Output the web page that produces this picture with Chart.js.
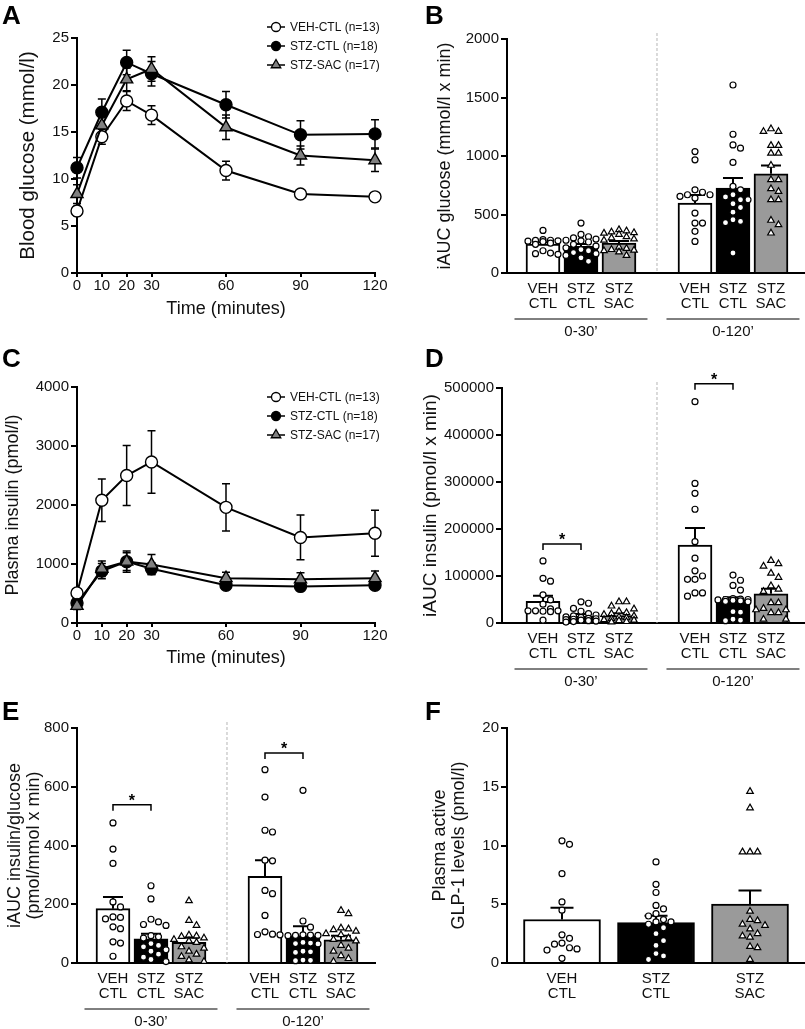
<!DOCTYPE html>
<html>
<head>
<meta charset="utf-8">
<script src="https://cdn.jsdelivr.net/npm/chart.js@4.4.1/dist/chart.umd.min.js"></script>
<style>
  body { margin: 0; background: #fff; }
  #wrap { position: relative; width: 805px; height: 1029px; overflow: hidden; background: #fff; }
  canvas { position: absolute; }
</style>
</head>
<body>
<div id="wrap">
  <canvas id="chartA" width="400" height="320" style="left:0;top:0"></canvas>
  <canvas id="chartB" width="405" height="345" style="left:400px;top:0"></canvas>
  <canvas id="chartC" width="400" height="330" style="left:0;top:340px"></canvas>
  <canvas id="chartD" width="405" height="350" style="left:400px;top:345px"></canvas>
  <canvas id="chartE" width="400" height="334" style="left:0;top:695px"></canvas>
  <canvas id="chartF" width="405" height="334" style="left:400px;top:695px"></canvas>
</div>
<script>
// ---- data ----
const times = [0, 10, 20, 30, 60, 90, 120];
const seriesNames = ["VEH-CTL (n=13)", "STZ-CTL (n=18)", "STZ-SAC (n=17)"];

const glucoseVeh = [6.6, 14.5, 18.3, 16.8, 10.9, 8.4, 8.1];
const glucoseVehSem = [0.5, 0.8, 1.0, 1.0, 1.0, 0.4, 0.3];
const glucoseStz = [11.2, 17.1, 22.4, 21.2, 17.9, 14.7, 14.8];
const glucoseStzSem = [1.1, 1.4, 1.3, 1.3, 1.4, 1.5, 1.5];
const glucoseSac = [8.4, 15.7, 20.6, 21.7, 15.5, 12.5, 12.0];
const glucoseSacSem = [1.0, 1.0, 1.2, 1.3, 1.3, 1.0, 1.2];

const insulinVeh = [510, 2080, 2500, 2730, 1960, 1450, 1520];
const insulinVehSem = [60, 360, 510, 530, 400, 380, 390];
const insulinStz = [340, 880, 1040, 920, 640, 620, 640];
const insulinStzSem = [60, 130, 150, 100, 70, 70, 70];
const insulinSac = [290, 920, 1040, 990, 760, 740, 760];
const insulinSacSem = [60, 130, 180, 170, 100, 110, 120];

const groupTop = ["VEH", "STZ", "STZ"];
const groupBottom = ["CTL", "CTL", "SAC"];
const periods = ["0-30\u2019", "0-120\u2019"];

// iAUC glucose
const gluAucMean = [247, 228, 256, 597, 725, 848];
const gluAucSem = [16, 20, 18, 70, 86, 71];
const gluVeh30 = [364, 285, 280, 278, 275, 272, 268, 255, 245, 190, 170, 165, 160];
const gluStz30 = [427, 330, 310, 300, 290, 280, 275, 265, 245, 230, 215, 200, 190, 175, 165, 150, 130, 100];
const gluSac30 = [370, 360, 350, 345, 340, 330, 310, 300, 290, 280, 220, 210, 200, 195, 190, 180, 150];
const gluVeh120 = [1038, 967, 711, 690, 669, 669, 655, 640, 512, 427, 427, 356, 270];
const gluStz120 = [1607, 1186, 1095, 1067, 945, 740, 711, 669, 650, 626, 626, 592, 560, 520, 455, 441, 430, 171];
const gluSac120 = [1232, 1209, 1209, 1090, 1090, 1024, 1024, 920, 797, 797, 720, 697, 626, 626, 450, 412, 341];

// iAUC insulin
const insAucMean = [46000, 14000, 16000, 166000, 50000, 62000];
const insAucSem = [12000, 5000, 5000, 36000, 5000, 11000];
const insVeh30 = [132000, 95000, 89000, 60000, 49000, 40000, 30000, 26000, 26000, 26000, 25000, 24000, 6000];
const insStz30 = [45000, 42000, 31000, 25000, 20000, 17000, 15000, 13000, 12000, 10000, 9000, 8000, 7000, 6000, 5000, 4000, 3000, 2000];
const insSac30 = [45000, 45000, 36000, 30000, 25000, 22000, 20000, 18000, 15000, 13000, 11000, 9000, 7000, 6000, 5000, 3000, 2000];
const insVeh120 = [471000, 297000, 276000, 242000, 173000, 138000, 111000, 100000, 93000, 93000, 64000, 64000, 57000];
const insStz120 = [102000, 91000, 80000, 70000, 52000, 51000, 50000, 50000, 49000, 48000, 47000, 46000, 45000, 24000, 23000, 8000, 6000, 5000];
const insSac120 = [133000, 126000, 121000, 106000, 97000, 79000, 72000, 67000, 43000, 43000, 31000, 28000, 28000, 22000, 22000, 8000, 8000];
const insSig = [168000, 509000];

// iAUC insulin / glucose
const ratioMean = [185, 82, 70, 295, 93, 79];
const ratioSem = [40, 18, 16, 55, 32, 14];
const ratioVeh30 = [477, 388, 339, 208, 191, 157, 155, 150, 123, 117, 72, 68, 23];
const ratioStz30 = [263, 218, 149, 140, 131, 128, 93, 89, 85, 66, 60, 55, 45, 40, 30, 20, 12, 5];
const ratioSac30 = [212, 145, 128, 95, 92, 90, 85, 80, 75, 70, 55, 50, 40, 30, 22, 10, 5];
const ratioVeh120 = [658, 565, 452, 446, 350, 348, 247, 236, 162, 106, 98, 97, 96];
const ratioStz120 = [588, 143, 122, 96, 95, 94, 94, 93, 70, 68, 66, 65, 40, 38, 36, 10, 9, 8];
const ratioSac120 = [179, 168, 119, 116, 113, 108, 100, 96, 85, 80, 75, 60, 50, 40, 25, 15, 5];
const ratioSig = [539, 715];

// GLP-1
const glpMean = [3.7, 3.43, 5.02];
const glpSem = [1.0, 0.6, 1.16];
const glpVeh = [10.4, 10.1, 7.6, 5.2, 4.5, 2.4, 2.1, 1.7, 1.6, 1.3, 1.2, 1.1, 0.4];
const glpStz = [8.6, 6.7, 6.0, 4.9, 4.6, 4.2, 4.0, 3.7, 3.5, 3.5, 3.3, 3.0, 2.5, 1.9, 1.5, 0.8, 0.6, 0.3];
const glpSac = [14.6, 13.2, 9.45, 9.45, 9.45, 4.4, 3.7, 3.6, 3.3, 3.2, 2.9, 2.5, 2.3, 2.2, 1.4, 1.3, 0.3];

// ---- shared look ----
const FONT = '"Liberation Sans", Arial, Helvetica, sans-serif';
const INK = "#111";
const barFill = ["#ffffff", "#000000", "#9a9a9a"];
Chart.defaults.font.family = FONT;
Chart.defaults.color = INK;
Chart.defaults.animation = false;
Chart.defaults.events = [];
Chart.defaults.plugins.legend.display = false;
Chart.defaults.plugins.tooltip.enabled = false;

function marker(ctx, style, x, y, r, fill) {
  ctx.beginPath();
  if (style === "triangle") {
    ctx.moveTo(x, y - r);
    ctx.lineTo(x + r * 0.866, y + r * 0.5);
    ctx.lineTo(x - r * 0.866, y + r * 0.5);
    ctx.closePath();
  } else {
    ctx.arc(x, y, r, 0, Math.PI * 2);
  }
  ctx.fillStyle = fill;
  ctx.fill();
  ctx.lineWidth = 1.3;
  ctx.strokeStyle = "#000";
  ctx.stroke();
}

// beeswarm: points at close values sit side by side, within a fixed spread
function swarm(values, slot, pxPerUnit, pxPerSlot, gap, spread) {
  const placed = [];
  const cands = [0];
  for (let k = 1; k * gap <= spread; k++) cands.push(k * gap, -k * gap);
  return values.map(v => {
    const py = v * pxPerUnit;
    let best = cands[0], bestD = -1;
    for (const off of cands) {
      const d = placed.reduce((m, p) => Math.min(m, Math.hypot(p.x - off, p.y - py)), Infinity);
      if (d >= gap) { best = off; bestD = d; break; }
      if (d > bestD) { best = off; bestD = d; }
    }
    placed.push({ x: best, y: py });
    return { x: slot + best / pxPerSlot, y: v };
  });
}

function yScale(o) {
  return {
    min: 0,
    max: o.yMax,
    afterFit: s => { s.width = o.area.l; },
    grid: { display: true, drawOnChartArea: false, drawTicks: true, tickLength: 6, color: "#000", lineWidth: 2 },
    border: { display: true, color: "#000", width: 2 },
    ticks: { stepSize: o.yStep, padding: 2, color: INK, font: { size: 15 }, callback: v => String(v) },
    title: {
      display: true, text: o.title, color: INK,
      font: { size: o.titleSize, lineHeight: 1.05 },
      padding: { top: o.titlePad, bottom: 0 }
    }
  };
}

function makeDecor(o) {
  return {
    id: "decor",
    beforeDatasetsDraw(chart) {
      if (!o.lineErrors) return;
      const ctx = chart.ctx, ys = chart.scales.y;
      ctx.save();
      ctx.strokeStyle = "#000";
      ctx.lineWidth = 1.5;
      chart.data.datasets.forEach((ds, i) => {
        chart.getDatasetMeta(i).data.forEach((pt, j) => {
          const v = ds.data[j].y, e = ds.sem[j];
          const y1 = ys.getPixelForValue(v + e), y2 = ys.getPixelForValue(v - e);
          ctx.beginPath();
          ctx.moveTo(pt.x, y1); ctx.lineTo(pt.x, y2);
          ctx.moveTo(pt.x - 4, y1); ctx.lineTo(pt.x + 4, y1);
          ctx.moveTo(pt.x - 4, y2); ctx.lineTo(pt.x + 4, y2);
          ctx.stroke();
        });
      });
      ctx.restore();
    },
    afterDatasetDraw(chart, args) {
      if (args.meta.type !== "bar") return;
      const ctx = chart.ctx, ys = chart.scales.y;
      const ds = chart.data.datasets[args.index];
      ctx.save();
      ctx.strokeStyle = "#000";
      ctx.lineWidth = 2;
      args.meta.data.forEach((bar, j) => {
        const top = ys.getPixelForValue(ds.data[j].y + ds.sem[j]);
        ctx.beginPath();
        ctx.moveTo(bar.x, bar.y); ctx.lineTo(bar.x, top);
        ctx.moveTo(bar.x - o.capW / 2, top); ctx.lineTo(bar.x + o.capW / 2, top);
        ctx.stroke();
      });
      ctx.restore();
    },
    afterDraw(chart) {
      const ctx = chart.ctx, xs = chart.scales.x, ys = chart.scales.y, area = chart.chartArea;
      ctx.save();
      // panel letter
      ctx.fillStyle = "#000";
      ctx.font = "bold 26px " + FONT;
      ctx.textAlign = "left";
      ctx.textBaseline = "alphabetic";
      ctx.fillText(o.letter, o.letterPos[0], o.letterPos[1]);

      // legend
      if (o.legend) {
        ctx.font = "12px " + FONT;
        ctx.textBaseline = "middle";
        o.legend.items.forEach((it, i) => {
          const y = o.legend.y + i * o.legend.dy, x = o.legend.x;
          ctx.beginPath();
          ctx.strokeStyle = "#000"; ctx.lineWidth = 1.5;
          ctx.moveTo(x - 9, y); ctx.lineTo(x + 9, y); ctx.stroke();
          marker(ctx, it.style, x, y, it.style === "triangle" ? 5.5 : 4.5, it.fill);
          ctx.fillStyle = INK;
          ctx.fillText(it.name, x + 14, y + 0.5);
        });
      }

      // dashed separator between the two periods
      if (o.periods) {
        const sx = xs.getPixelForValue(3);
        ctx.beginPath();
        ctx.setLineDash([3, 2]);
        ctx.strokeStyle = "#b5b5b5"; ctx.lineWidth = 1;
        ctx.moveTo(sx, area.top - 6); ctx.lineTo(sx, area.bottom);
        ctx.stroke();
        ctx.setLineDash([]);
        // group underlines and period labels
        ctx.strokeStyle = "#000"; ctx.lineWidth = 1;
        ctx.fillStyle = INK;
        ctx.font = "15px " + FONT;
        ctx.textAlign = "center"; ctx.textBaseline = "middle";
        [[-0.75, 2.75, 1], [3.25, 6.75, 5]].forEach((g, i) => {
          const ly = area.bottom + 46;
          ctx.beginPath();
          ctx.moveTo(xs.getPixelForValue(g[0]), ly); ctx.lineTo(xs.getPixelForValue(g[1]), ly);
          ctx.stroke();
          ctx.fillText(periods[i], xs.getPixelForValue(g[2]), area.bottom + 59);
        });
      }

      // significance brackets (VEH-CTL vs STZ-CTL)
      if (o.sig) {
        ctx.strokeStyle = "#000"; ctx.lineWidth = 1.5;
        ctx.fillStyle = "#000";
        ctx.font = "bold 16px " + FONT;
        ctx.textAlign = "center"; ctx.textBaseline = "alphabetic";
        o.sig.forEach((v, i) => {
          const x1 = xs.getPixelForValue(i * 4), x2 = xs.getPixelForValue(i * 4 + 1);
          const y = ys.getPixelForValue(v);
          ctx.beginPath();
          ctx.moveTo(x1, y + 6); ctx.lineTo(x1, y); ctx.lineTo(x2, y); ctx.lineTo(x2, y + 6);
          ctx.stroke();
          ctx.fillText("*", (x1 + x2) / 2, y + 1);
        });
      }
      ctx.restore();
    }
  };
}

function lineChart(id, o) {
  const series = [
    { values: o.sac, sem: o.sacSem, style: "triangle", fill: "#808080", r: 7 },
    { values: o.veh, sem: o.vehSem, style: "circle", fill: "#ffffff", r: 6 },
    { values: o.stz, sem: o.stzSem, style: "circle", fill: "#000000", r: 6 }
  ];
  new Chart(document.getElementById(id), {
    type: "line",
    data: {
      datasets: series.map(s => ({
        data: times.map((t, i) => ({ x: t, y: s.values[i] })),
        sem: s.sem,
        borderColor: "#000",
        borderWidth: 2,
        pointStyle: s.style,
        pointRadius: s.r,
        pointBackgroundColor: s.fill,
        pointBorderColor: "#000",
        pointBorderWidth: 1.4,
        tension: 0,
        clip: false
      }))
    },
    options: {
      responsive: false,
      devicePixelRatio: 1,
      layout: { autoPadding: false, padding: { left: 0, top: o.area.t, right: o.w - o.area.r, bottom: 0 } },
      scales: {
        x: {
          type: "linear",
          min: 0,
          max: 120,
          afterBuildTicks: s => { s.ticks = times.map(v => ({ value: v })); },
          afterFit: s => { s.height = o.h - o.area.b; },
          grid: { display: true, drawOnChartArea: false, drawTicks: true, tickLength: 4, color: "#000", lineWidth: 2 },
          border: { display: true, color: "#000", width: 2 },
          ticks: { autoSkip: false, maxRotation: 0, padding: 1, color: INK, font: { size: 15, lineHeight: 1.05 }, callback: v => String(v) },
          title: { display: true, text: "Time (minutes)", color: INK, font: { size: 18, lineHeight: 1.2 }, padding: { top: 0, bottom: o.xTitlePad } }
        },
        y: yScale(o)
      }
    },
    plugins: [makeDecor({
      letter: o.letter, letterPos: o.letterPos, lineErrors: true,
      legend: {
        x: 276, y: o.legendY, dy: 19,
        items: [
          { name: seriesNames[0], style: "circle", fill: "#ffffff" },
          { name: seriesNames[1], style: "circle", fill: "#000000" },
          { name: seriesNames[2], style: "triangle", fill: "#808080" }
        ]
      }
    })]
  });
}

function barChart(id, o) {
  const plotH = o.area.b - o.area.t;
  const pxSlot = (o.area.r - o.area.l) / (o.xMax - o.xMin);
  const scatter = o.points.map((vals, g) => ({
    type: "scatter",
    data: swarm(vals, o.slots[g], plotH / o.yMax, pxSlot, 7.5, 18),
    pointStyle: g % 3 === 2 ? "triangle" : "circle",
    pointRadius: g % 3 === 2 ? 3.8 : 3,
    pointBackgroundColor: "#fff",
    pointBorderColor: "#000",
    pointBorderWidth: 1.2,
    order: 1,
    clip: false
  }));
  new Chart(document.getElementById(id), {
    type: "bar",
    data: {
      datasets: [
        {
          type: "bar",
          data: o.slots.map((s, i) => ({ x: s, y: o.means[i] })),
          sem: o.sems,
          backgroundColor: o.slots.map((s, i) => barFill[i % 3]),
          borderColor: "#000",
          borderWidth: 2,
          barThickness: o.barW,
          order: 2
        },
        ...scatter
      ]
    },
    options: {
      responsive: false,
      devicePixelRatio: 1,
      layout: { autoPadding: false, padding: { left: 0, top: o.area.t, right: o.w - o.area.r, bottom: 0 } },
      scales: {
        x: {
          type: "linear",
          min: o.xMin,
          max: o.xMax,
          offset: false,
          afterBuildTicks: s => { s.ticks = o.slots.map(v => ({ value: v })); },
          afterFit: s => { s.height = o.h - o.area.b; },
          grid: { display: false, drawTicks: false, offset: false },
          border: { display: true, color: "#000", width: 2 },
          ticks: {
            autoSkip: false, maxRotation: 0, padding: 8, color: INK,
            font: { size: 15, lineHeight: 1.0 },
            callback: (v, i) => [groupTop[i % 3], groupBottom[i % 3]]
          }
        },
        y: yScale(o)
      }
    },
    plugins: [makeDecor({ letter: o.letter, letterPos: o.letterPos, capW: o.capW, periods: o.periods, sig: o.sig })]
  });
}

// ---- panels ----
lineChart("chartA", {
  letter: "A", letterPos: [2, 24], w: 400, h: 320,
  area: { l: 77, t: 38, r: 375, b: 273 },
  veh: glucoseVeh, vehSem: glucoseVehSem, stz: glucoseStz, stzSem: glucoseStzSem, sac: glucoseSac, sacSem: glucoseSacSem,
  yMax: 25, yStep: 5, title: "Blood glucose (mmol/l)", titleSize: 20.5, titlePad: 18, xTitlePad: 0, legendY: 27
});

barChart("chartB", {
  letter: "B", letterPos: [25, 24], w: 405, h: 345,
  area: { l: 107, t: 39, r: 405, b: 273 },
  slots: [0, 1, 2, 4, 5, 6], xMin: -0.947, xMax: 6.895, barW: 34, capW: 20,
  means: gluAucMean, sems: gluAucSem,
  points: [gluVeh30, gluStz30, gluSac30, gluVeh120, gluStz120, gluSac120],
  yMax: 2000, yStep: 500, title: "iAUC glucose (mmol/l x min)", titleSize: 18, titlePad: 36, periods: true
});

lineChart("chartC", {
  letter: "C", letterPos: [2, 27], w: 400, h: 330,
  area: { l: 77, t: 47, r: 375, b: 283 },
  veh: insulinVeh, vehSem: insulinVehSem, stz: insulinStz, stzSem: insulinStzSem, sac: insulinSac, sacSem: insulinSacSem,
  yMax: 4000, yStep: 1000, title: "Plasma insulin (pmol/l)", titleSize: 18, titlePad: 4, xTitlePad: 1, legendY: 57
});

barChart("chartD", {
  letter: "D", letterPos: [25, 22], w: 405, h: 350,
  area: { l: 102, t: 43, r: 405, b: 278 },
  slots: [0, 1, 2, 4, 5, 6], xMin: -1.079, xMax: 6.895, barW: 34, capW: 20,
  means: insAucMean, sems: insAucSem,
  points: [insVeh30, insStz30, insSac30, insVeh120, insStz120, insSac120],
  yMax: 500000, yStep: 100000, title: "iAUC insulin (pmol/l x min)", titleSize: 19, titlePad: 21, periods: true, sig: insSig
});

barChart("chartE", {
  letter: "E", letterPos: [2, 25], w: 400, h: 334,
  area: { l: 77, t: 33, r: 375, b: 268 },
  slots: [0, 1, 2, 4, 5, 6], xMin: -0.947, xMax: 6.895, barW: 34, capW: 20,
  means: ratioMean, sems: ratioSem,
  points: [ratioVeh30, ratioStz30, ratioSac30, ratioVeh120, ratioStz120, ratioSac120],
  yMax: 800, yStep: 200, title: ["iAUC insulin/glucose", "(pmol/mmol x min)"], titleSize: 18, titlePad: 6, periods: true, sig: ratioSig
});

barChart("chartF", {
  letter: "F", letterPos: [25, 25], w: 405, h: 334,
  area: { l: 107, t: 33, r: 405, b: 268 },
  slots: [0, 1, 2], xMin: -0.585, xMax: 2.585, barW: 77, capW: 23,
  means: glpMean, sems: glpSem,
  points: [glpVeh, glpStz, glpSac],
  yMax: 20, yStep: 5, title: ["Plasma active", "GLP-1 levels (pmol/l)"], titleSize: 18, titlePad: 31
});
</script>
</body>
</html>
